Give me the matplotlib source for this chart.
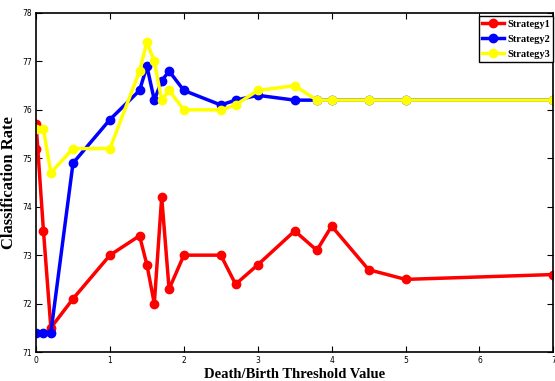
import matplotlib
matplotlib.use('Agg')
import matplotlib.pyplot as plt

# Threshold values and classification rates
x1 = [0, 0, 0.1, 0.2, 0.5, 1.0, 1.4, 1.5, 1.6, 1.7, 1.8, 2.0, 2.5, 2.7, 3.0, 3.5, 3.8, 4.0, 4.5, 5.0, 7.0]
s1 = [75.2, 75.7, 73.5, 71.5, 72.1, 73.0, 73.4, 72.8, 72.0, 74.2, 72.3, 73.0, 73.0, 72.4, 72.8, 73.5, 73.1, 73.6, 72.7, 72.5, 72.6]

x2 = [0, 0.1, 0.2, 0.5, 1.0, 1.4, 1.5, 1.6, 1.7, 1.8, 2.0, 2.5, 2.7, 3.0, 3.5, 3.8, 4.0, 4.5, 5.0, 7.0]
s2 = [71.4, 71.4, 71.4, 74.9, 75.8, 76.4, 76.9, 76.2, 76.6, 76.8, 76.4, 76.1, 76.2, 76.3, 76.2, 76.2, 76.2, 76.2, 76.2, 76.2]

x3 = [0, 0.1, 0.2, 0.5, 1.0, 1.4, 1.5, 1.6, 1.7, 1.8, 2.0, 2.5, 2.7, 3.0, 3.5, 3.8, 4.0, 4.5, 5.0, 7.0]
s3 = [75.6, 75.6, 74.7, 75.2, 75.2, 76.8, 77.4, 77.0, 76.2, 76.4, 76.0, 76.0, 76.1, 76.4, 76.5, 76.2, 76.2, 76.2, 76.2, 76.2]

fig = plt.figure(figsize=(5.55, 3.81), dpi=100)
ax = fig.add_axes([0.065, 0.076, 0.932, 0.89])

ax.plot(x1, s1, color='red', marker='o', markersize=6, linewidth=2.5, label='Strategy1')
ax.plot(x2, s2, color='blue', marker='o', markersize=6, linewidth=2.5, label='Strategy2')
ax.plot(x3, s3, color='yellow', marker='o', markersize=6, linewidth=2.5, label='Strategy3')

ax.set_xlim(0, 7)
ax.set_ylim(71, 78)
ax.set_xticks(range(0, 8))
ax.set_yticks(range(71, 79))
ax.tick_params(direction='in', labelsize=5.5, top=True, right=True, length=4, width=0.8, pad=3)
for sp in ax.spines.values():
    sp.set_linewidth(1.2)

ax.set_xlabel('Death/Birth Threshold Value', fontsize=10.5, fontweight='bold',
              family='Liberation Serif')
ax.set_ylabel('Classification Rate', fontsize=12, fontweight='bold',
              family='Liberation Serif')
ax.xaxis.set_label_coords(0.5, -0.048)
ax.yaxis.set_label_coords(-0.036, 0.5)

leg = ax.legend(loc='upper right', bbox_to_anchor=(1.0, 0.99), fancybox=False,
                edgecolor='black', framealpha=1,
                prop={'family': 'Liberation Serif', 'weight': 'bold', 'size': 7.5},
                handlelength=2.1, borderpad=0.3, labelspacing=0.55, handletextpad=0.3,
                borderaxespad=0)
leg.get_frame().set_linewidth(1.0)

fig.savefig('out.png', dpi=100)
